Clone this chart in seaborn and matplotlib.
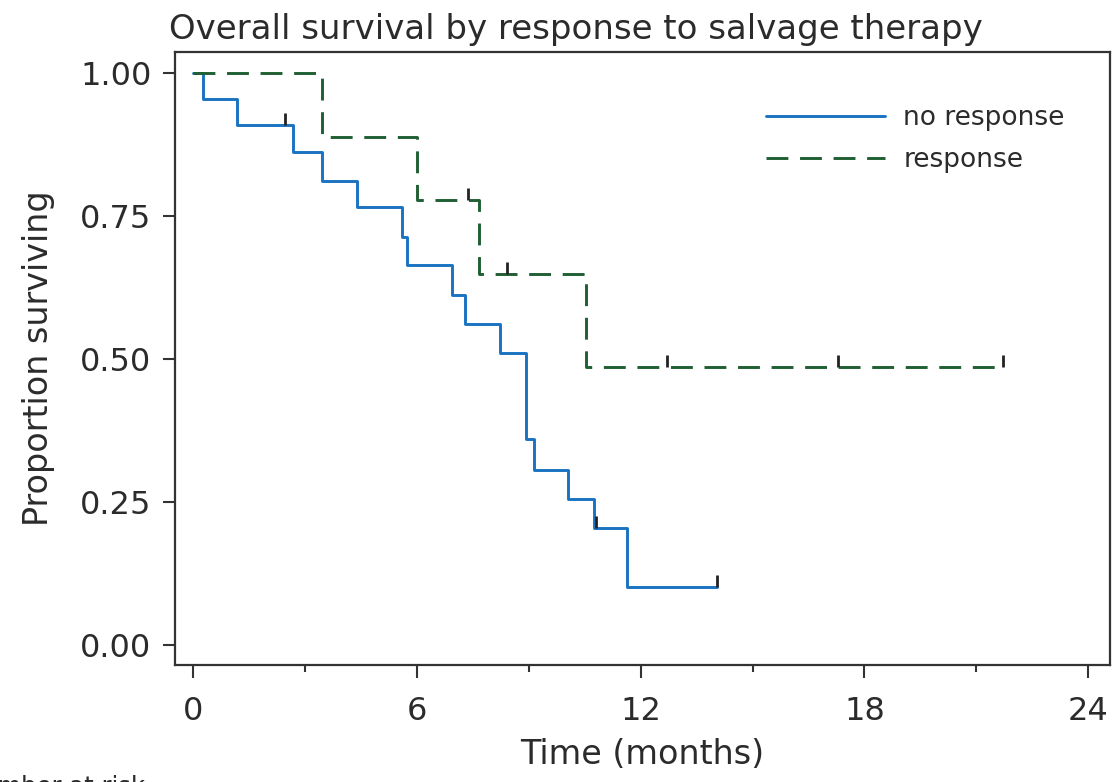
import matplotlib
matplotlib.use('Agg')
import matplotlib.pyplot as plt
import seaborn as sns
import pandas as pd
import numpy as np

# Kaplan-Meier steps (time in months, survival after the step)
no_resp_time = [0, 0.27, 1.18, 2.69, 3.47, 4.41, 5.60, 5.75, 6.93, 7.30, 8.22, 8.92, 9.13, 10.04, 10.76, 11.63, 14.04]
no_resp_surv = [1.0, 0.955, 0.909, 0.862, 0.812, 0.766, 0.714, 0.664, 0.612, 0.561, 0.511, 0.360, 0.306, 0.255, 0.204, 0.102, 0.102]
no_resp_censor = [2.46, 10.80, 14.04]

resp_time = [0, 3.47, 6.00, 7.66, 10.53, 21.72]
resp_surv = [1.0, 0.889, 0.778, 0.648, 0.486, 0.486]
resp_censor = [7.37, 8.42, 12.70, 17.28, 21.72]

groups = ['no response', 'response']
colores = {'no response': '#1a73c2', 'response': '#1f5f33'}
x_ticks = [0, 6, 12, 18, 24]
x_minor = [3, 9, 15, 21]
y_ticks = [0.00, 0.25, 0.50, 0.75, 1.00]

sns.set_theme(style='ticks')
plt.rcParams['font.family'] = ['DejaVu Sans']
texto = '#2b2b2b'

df = pd.concat([
    pd.DataFrame({'Time': no_resp_time, 'Surv': no_resp_surv, 'Grupo': groups[0]}),
    pd.DataFrame({'Time': resp_time, 'Surv': resp_surv, 'Grupo': groups[1]}),
], ignore_index=True)

fig = plt.figure(figsize=(11.15, 7.82), dpi=100)
ax = fig.add_axes([0.157, 0.1496, 0.8385, 0.784])

sns.lineplot(data=df, x='Time', y='Surv', hue='Grupo', style='Grupo',
             hue_order=groups, style_order=groups,
             palette=colores, dashes={'no response': '', 'response': (7.5, 4)},
             estimator=None, sort=False, drawstyle='steps-post',
             linewidth=2.1, ax=ax)

# marcas de censura
def surv_at(tiempos, surv, t):
    idx = np.searchsorted(tiempos, t, side='right') - 1
    return np.array(surv)[idx]

for tiempos, surv, cens in [(no_resp_time, no_resp_surv, no_resp_censor),
                            (resp_time, resp_surv, resp_censor)]:
    ax.plot(cens, surv_at(tiempos, surv, cens), linestyle='none',
            marker=2, markersize=9, markeredgewidth=2, color='#222222')

ax.set_xlim(-0.48, 24.58)
ax.set_ylim(-0.035, 1.037)
ax.set_xticks(x_ticks)
ax.set_xticks(x_minor, minor=True)
ax.set_yticks(y_ticks)
ax.set_yticklabels([f'{v:.2f}' for v in y_ticks])
ax.tick_params(axis='both', which='major', length=9, width=1.5, colors='#333333',
               labelcolor=texto, labelsize=23, pad=8)
ax.tick_params(axis='x', which='minor', length=5, width=1.5, colors='#333333')
ax.tick_params(axis='x', pad=13)
for s in ax.spines.values():
    s.set_visible(True)
    s.set_color('#333333')
    s.set_linewidth(1.6)

ax.set_xlabel('Time (months)', fontsize=24, color=texto, labelpad=8)
ax.set_ylabel('Proportion surviving', fontsize=24, color=texto, labelpad=18)
ax.set_title('Overall survival by response to salvage therapy', loc='left',
             fontsize=24.5, color=texto, pad=9, x=-0.006)

leg = ax.legend(loc='upper right', frameon=False, fontsize=19, handlelength=4.5,
                handletextpad=0.7, labelspacing=0.6, bbox_to_anchor=(0.977, 0.952))
for t in leg.get_texts():
    t.set_color(texto)

fig.text(-0.032, -0.015, 'Number at risk', fontsize=17.5, color=texto,
         va='baseline')

plt.savefig('out.png', dpi=100)
plt.close()
